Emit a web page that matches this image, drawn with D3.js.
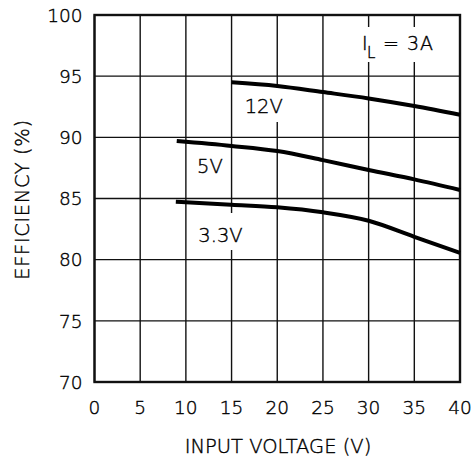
<!DOCTYPE html>
<html>
<head>
<meta charset="utf-8">
<script src="https://cdn.jsdelivr.net/npm/d3@7"></script>
<style>
  html, body { margin: 0; padding: 0; background: #fff; }
  svg text { font-family: "DejaVu Sans", sans-serif; font-weight: 200; font-stretch: condensed;
             fill: #000; stroke: #000; stroke-width: 0.4px; }
</style>
</head>
<body>
<svg id="chart" width="473" height="461"></svg>
<script>
// ---- data ----
const xTicks = [0, 5, 10, 15, 20, 25, 30, 35, 40];
const yTicks = [70, 75, 80, 85, 90, 95, 100];
const seriesNames = ["12V", "5V", "3.3V"];
const vin12 = [15, 20, 25, 30, 35, 40];
const eff12 = [94.5, 94.2, 93.7, 93.18, 92.56, 91.85];
const vin5 = [9, 15, 20, 25, 30, 35, 40];
const eff5 = [89.7, 89.3, 88.88, 88.14, 87.33, 86.56, 85.7];
const vin33 = [8.9, 10, 15, 20, 25, 30, 35, 40];
const eff33 = [84.73, 84.69, 84.49, 84.28, 83.87, 83.18, 81.87, 80.56];
const xTitle = "INPUT VOLTAGE (V)";
const yTitle = "EFFICIENCY (%)";

// ---- layout ----
const svg = d3.select("#chart");
const pL = 94.5, pR = 460, pT = 15, pB = 382;
const x = d3.scaleLinear().domain([0, 40]).range([pL, pR]);
const y = d3.scaleLinear().domain([70, 100]).range([pB, pT]);

// grid
const grid = svg.append("g").attr("stroke", "#111").attr("stroke-width", 1.4);
grid.selectAll("line.v").data(xTicks).join("line").attr("class", "v")
  .attr("x1", d => x(d)).attr("x2", d => x(d))
  .attr("y1", pT).attr("y2", pB);
grid.selectAll("line.h").data(yTicks).join("line").attr("class", "h")
  .attr("x1", pL).attr("x2", pR)
  .attr("y1", d => y(d)).attr("y2", d => y(d));

// frame
svg.append("rect").attr("x", pL).attr("y", pT)
  .attr("width", pR - pL).attr("height", pB - pT)
  .attr("fill", "none").attr("stroke", "#111").attr("stroke-width", 2.4);

// label masks (white boxes that break the grid)
const masks = [
  {x0: 240, y0: 88, x1: 284, y1: 122},
  {x0: 195, y0: 213, x1: 246, y1: 250},
  {x0: 355, y0: 27, x1: 430, y1: 62}
];
svg.append("g").selectAll("rect").data(masks).join("rect")
  .attr("x", d => d.x0).attr("y", d => d.y0)
  .attr("width", d => d.x1 - d.x0).attr("height", d => d.y1 - d.y0)
  .attr("fill", "#fff");

// curves
const line = d3.line().x(d => x(d[0])).y(d => y(d[1])).curve(d3.curveMonotoneX);
const series = [
  d3.zip(vin12, eff12),
  d3.zip(vin5, eff5),
  d3.zip(vin33, eff33)
];
svg.append("g").selectAll("path").data(series).join("path")
  .attr("d", line).attr("fill", "none")
  .attr("stroke", "#000").attr("stroke-width", 4).attr("stroke-linecap", "butt");

// curve labels
const labelPos = [[18.52, 112.7], [12.64, 173], [13.79, 241.5]];
svg.append("g").selectAll("text").data(seriesNames).join("text")
  .attr("x", (d, i) => x(labelPos[i][0])).attr("y", (d, i) => labelPos[i][1])
  .attr("text-anchor", "middle").attr("font-size", 19.5)
  .text(d => d);

// I_L = 3A
svg.append("text").attr("x", 362).attr("y", 50).attr("font-size", 19).text("I");
svg.append("text").attr("x", 367).attr("y", 58).attr("font-size", 15).text("L");
svg.append("text").attr("x", 383).attr("y", 50).attr("font-size", 19).attr("letter-spacing", 1).text("= 3A");

// tick labels
svg.append("g").selectAll("text").data(xTicks).join("text")
  .attr("x", d => x(d)).attr("y", 413.5)
  .attr("text-anchor", "middle").attr("font-size", 18.5)
  .text(d => d);
svg.append("g").selectAll("text").data(yTicks).join("text")
  .attr("x", 82.5).attr("y", d => y(d) + 6.7)
  .attr("text-anchor", "end").attr("font-size", 18.5)
  .text(d => d);

// axis titles
svg.append("text").attr("x", 278).attr("y", 453)
  .attr("text-anchor", "middle").attr("font-size", 19.5).text(xTitle);
svg.append("text").attr("transform", "translate(28.5,199.5) rotate(-90)")
  .attr("text-anchor", "middle").attr("font-size", 19.5).attr("letter-spacing", 0.6).text(yTitle);
</script>
</body>
</html>
